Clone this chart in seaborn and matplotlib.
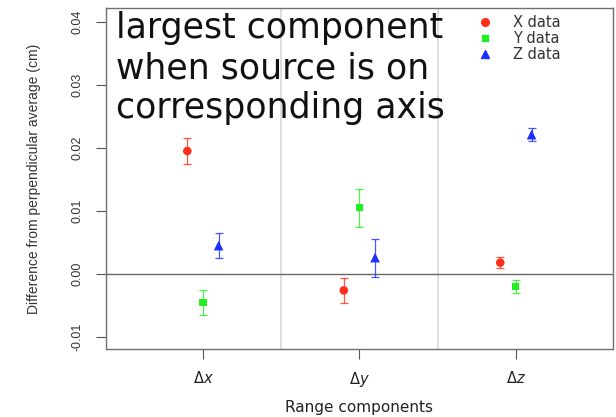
import numpy as np
import pandas as pd
import matplotlib
matplotlib.use("Agg")
import matplotlib.pyplot as plt
import seaborn as sns
from matplotlib.lines import Line2D

categories = [r"$\Delta x$", r"$\Delta y$", r"$\Delta z$"]
series = ["X data", "Y data", "Z data"]
x_vals = [0.0195, -0.0026, 0.0018]
y_vals = [-0.0045, 0.0105, -0.0020]
z_vals = [0.0045, 0.0026, 0.0221]
x_err = [0.0020, 0.0020, 0.0009]
y_err = [0.0020, 0.0030, 0.0010]
z_err = [0.0020, 0.0030, 0.0010]
yticks = [-0.01, 0.00, 0.01, 0.02, 0.03, 0.04]

colors = {"X data": "#ff2d1a", "Y data": "#22ee22", "Z data": "#1a30ff"}
markers = {"X data": "o", "Y data": "s", "Z data": "^"}
msizes = {"X data": 38, "Y data": 26, "Z data": 48}
offsets = {"X data": -0.1, "Y data": 0.0, "Z data": 0.1}

rows = []
for s, vals, errs in zip(series, [x_vals, y_vals, z_vals], [x_err, y_err, z_err]):
    for i, (v, e) in enumerate(zip(vals, errs)):
        rows.append({"series": s, "cat": i + 1, "pos": i + 1 + offsets[s], "value": v, "err": e})
df = pd.DataFrame(rows)

sns.set_style("white")
plt.rcParams["font.family"] = ["DejaVu Sans"]

fig = plt.figure(figsize=(6.16, 4.17), dpi=100)
ax = fig.add_axes([0.172, 0.163, 0.823, 0.818])

ax.axhline(0, color="#666666", lw=1.0, zorder=1)
for xv in [1.5, 2.5]:
    ax.axvline(xv, color="#d8d8d8", lw=1.2, zorder=0)

for s in series:
    d = df[df.series == s]
    ax.errorbar(d["pos"], d["value"], yerr=d["err"], fmt="none", ecolor=colors[s],
                elinewidth=0.9, capsize=2.6, capthick=0.9, alpha=0.8, zorder=2)
    sns.scatterplot(data=d, x="pos", y="value", color=colors[s], marker=markers[s],
                    s=msizes[s], edgecolor="none", ax=ax, zorder=3, legend=False)

ax.set_xlim(0.38, 3.62)
ax.set_ylim(-0.0119, 0.0422)
ax.set_xticks([1, 2, 3])
ax.set_xticklabels(categories, fontsize=10.5, color="#222222")
ax.set_yticks(yticks)
ax.set_yticklabels([f"{t:.2f}" for t in yticks], rotation=90, va="center", fontsize=9,
                   color="#333333", family=["Liberation Sans", "DejaVu Sans"])
ax.tick_params(axis="both", direction="out", length=7, width=0.8, color="#555555", left=True, bottom=True)
ax.tick_params(axis="y", pad=9)
ax.tick_params(axis="x", pad=8)
for sp in ax.spines.values():
    sp.set_color("#707070")
    sp.set_linewidth(1.0)

ax.set_xlabel("Range components", fontsize=11, color="#222222", labelpad=8)
ax.set_ylabel("Difference from perpendicular average (cm)", fontsize=10, color="#333333",
              family=["Liberation Sans", "DejaVu Sans"])
ax.yaxis.set_label_coords(-0.128, 0.5)

handles = [Line2D([], [], ls="none", marker=markers[s], color=colors[s],
                  markersize={"X data": 5.5, "Y data": 4.5, "Z data": 6}[s]) for s in series]
leg = ax.legend(handles, series, loc="upper left", bbox_to_anchor=(0.734, 0.978), frameon=False,
                fontsize=10.5, handlelength=1.0, handletextpad=1.42, labelspacing=0.05,
                borderpad=0.0, borderaxespad=0.0)
for t in leg.get_texts():
    t.set_color("#333333")

ax.text(0.02, 0.99, "largest component\nwhen source is on\ncorresponding axis",
        transform=ax.transAxes, ha="left", va="top", fontsize=25,
        color="#111111", linespacing=1.22, zorder=5)

fig.savefig("out.png", dpi=100)
